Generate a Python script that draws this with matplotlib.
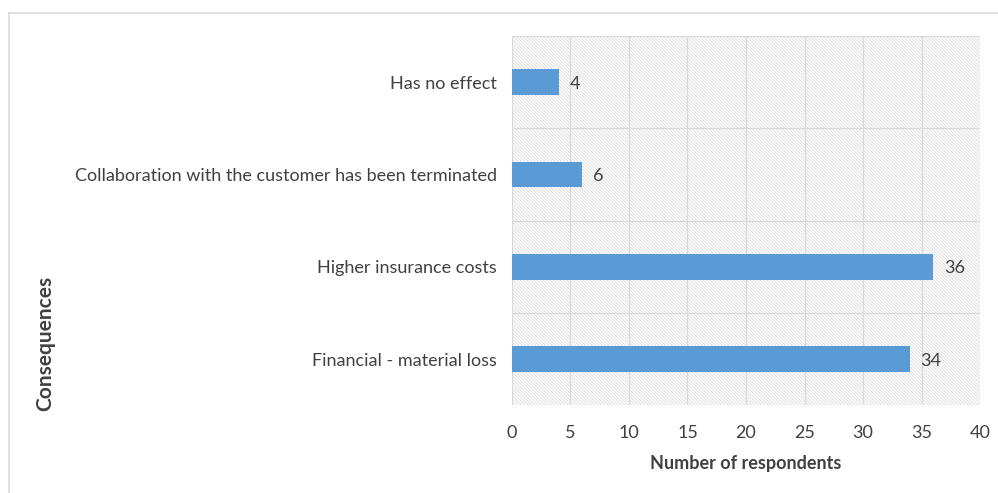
import matplotlib.pyplot as plt
from matplotlib.patches import Rectangle
from matplotlib.lines import Line2D

plt.rcParams['font.family'] = ['Lato', 'DejaVu Sans']
plt.rcParams['hatch.color'] = '#dcdcdc'
plt.rcParams['hatch.linewidth'] = 0.6

categories = [
    "Financial - material loss",
    "Higher insurance costs",
    "Collaboration with the customer has been terminated",
    "Has no effect",
]
respondents = [34, 36, 6, 4]
x_ticks = [0, 5, 10, 15, 20, 25, 30, 35, 40]

text_color = "#404040"
bar_color = "#5b9bd5"

fig = plt.figure(figsize=(9.98, 4.93), dpi=100)
ax = fig.add_axes([0.513, 0.178, 0.469, 0.749])

# hatched plot area background
ax.add_patch(Rectangle((0, 0), 1, 1, transform=ax.transAxes, facecolor="white",
                       edgecolor="#dcdcdc", hatch="\\" * 10, linewidth=0, zorder=0))

ypos = list(range(len(categories)))
ax.barh(ypos, respondents, height=0.28, color=bar_color, zorder=3)
for y, v in zip(ypos, respondents):
    ax.text(v + 0.9, y, str(v), va="center_baseline", ha="left", fontsize=13,
            color=text_color, zorder=4)

ax.set_xlim(0, 40)
ax.set_ylim(-0.5, len(categories) - 0.5)
ax.set_xticks(x_ticks)
ax.set_yticks(ypos)
ax.set_yticklabels(categories)
ax.tick_params(axis="both", length=0, labelsize=13, labelcolor=text_color)
ax.tick_params(axis="y", pad=11)
ax.tick_params(axis="x", pad=14)

for x in x_ticks:
    ax.axvline(x, color="#d9d9d9", linewidth=0.8, zorder=1)
for y in [-0.5, 0.5, 1.5, 2.5, 3.5]:
    ax.axhline(y, color="#d9d9d9", linewidth=0.8, zorder=1)

for s in ax.spines.values():
    s.set_visible(False)

fig.text(0.7475, 0.06, "Number of respondents", ha="center", va="center",
         fontsize=13, fontweight="bold", color=text_color)
fig.text(0.045, 0.304, "Consequences", ha="center", va="center", rotation=90,
         fontsize=15, fontweight="bold", color=text_color)

# outer chart border
fig.add_artist(Line2D([0.009, 1.0], [0.974, 0.974], color="#d9d9d9", linewidth=1.2, transform=fig.transFigure))
fig.add_artist(Line2D([0.009, 0.009], [0.0, 0.974], color="#d9d9d9", linewidth=1.2, transform=fig.transFigure))

fig.savefig("out.png", dpi=100)
